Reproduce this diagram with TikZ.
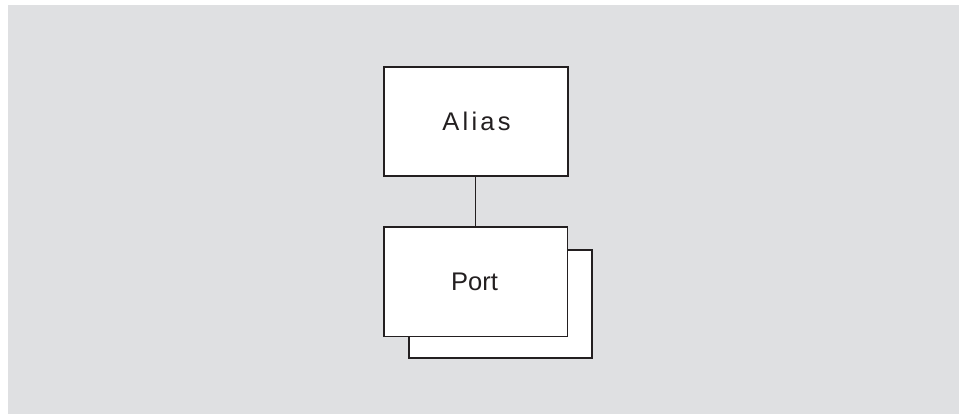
\documentclass[tikz,border=0pt]{standalone}
\usepackage{fontspec}
\setmainfont{Liberation Sans}
\definecolor{bg}{HTML}{DFE0E2}
\definecolor{ink}{HTML}{231F20}
\begin{document}
\begin{tikzpicture}[x=1pt,y=-1pt,
  boxline/.style={draw=ink,line width=2pt,fill=white},
  lbl/.style={font=\fontsize{25.5}{30}\selectfont,text=ink,inner sep=0pt}]
\useasboundingbox (0,0) rectangle (960,414);
\fill[bg] (8,5) rectangle (959,414);
% Alias box
\draw[boxline] (384,67) rectangle (568,176);
\node[lbl] (alias) at (476.5,121.5) {A\kern3.2pt l\kern3.2pt i\kern3.2pt a\kern3.2pt s};
% Port stack
\draw[boxline] (409,250) rectangle (592,358);
\fill[white] (384,227) rectangle (567,336);
\draw[ink,line width=0.6pt] (567,227) -- (567,336) -- (384,336);
\draw[ink,line width=2pt,line cap=rect] (384,336) -- (384,227) -- (567,227);
\node[lbl] (port) at (474.5,281.5) {Port};
\coordinate (abot) at (475,176);
\coordinate (ptop) at (475,227);
\draw[ink,line width=0.9pt] (abot) -- (ptop);
\end{tikzpicture}
\end{document}
